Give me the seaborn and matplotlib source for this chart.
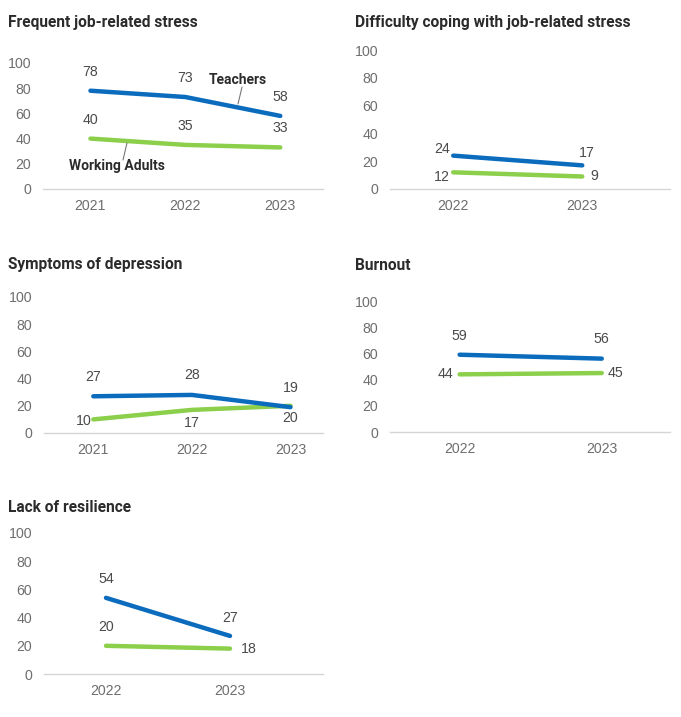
import numpy as np
import pandas as pd
import matplotlib
matplotlib.use("Agg")
import matplotlib.pyplot as plt
import seaborn as sns

# values (percent)
titles = ["Frequent job-related stress", "Difficulty coping with job-related stress",
          "Symptoms of depression", "Burnout", "Lack of resilience"]
years_3 = ["2021", "2022", "2023"]
years_2 = ["2022", "2023"]

stress_teachers = [78, 73, 58]
stress_adults = [40, 35, 33]
coping_teachers = [24, 17]
coping_adults = [12, 9]
depression_teachers = [27, 28, 19]
depression_adults = [10, 17, 20]
burnout_teachers = [59, 56]
burnout_adults = [44, 45]
resilience_teachers = [54, 27]
resilience_adults = [20, 18]

y_ticks = [0, 20, 40, 60, 80, 100]

BLUE = "#0b6bbd"
GREEN = "#8bcf4b"
TICK = "#6e6e6e"
LABEL = "#4a4a4a"
DARK = "#2b2b2b"

sns.set_theme(style="white")
plt.rcParams["font.family"] = ["Liberation Sans", "DejaVu Sans"]

W, H = 681, 717
fig = plt.figure(figsize=(W / 100, H / 100), dpi=100)

def px_axes(x0, x1, y0, y100):
    return fig.add_axes([x0 / W, 1 - y0 / H, (x1 - x0) / W, (y0 - y100) / H])

# (axes box px, xlim, title pos, data label offsets in px: teachers, adults)
panels = [
    dict(box=(43, 323, 189, 63), xlim=(-0.5, 2.45), title=(8, 23),
         years=years_3, t=stress_teachers, a=stress_adults,
         toff=[(0, 19), (0, 19), (0, 19)], aoff=[(0, 19), (0, 19), (0, 19)]),
    dict(box=(390, 670, 189, 50), xlim=(-0.49, 1.68), title=(355, 23),
         years=years_2, t=coping_teachers, a=coping_adults,
         toff=[(-11, 7), (5, 12)], aoff=[(-11, -5), (12, 0)]),
    dict(box=(44, 323, 433, 297), xlim=(-0.5, 2.33), title=(8, 265),
         years=years_3, t=depression_teachers, a=depression_adults,
         toff=[(0, 19), (0, 20), (0, 19)], aoff=[(-10, -2), (0, -13), (0, -12)]),
    dict(box=(390, 670, 432, 301), xlim=(-0.49, 1.48), title=(355, 265),
         years=years_2, t=burnout_teachers, a=burnout_adults,
         toff=[(0, 19), (0, 20)], aoff=[(-14, 0), (14, 0)]),
    dict(box=(44, 323, 674, 533), xlim=(-0.5, 1.75), title=(8, 507),
         years=years_2, t=resilience_teachers, a=resilience_adults,
         toff=[(0, 19), (0, 18)], aoff=[(0, 19), (19, 0)]),
]

for i, p in enumerate(panels):
    x0, x1, y0, y100 = p["box"]
    ax = px_axes(x0, x1, y0, y100)
    df = pd.DataFrame({
        "year": p["years"] * 2,
        "value": p["t"] + p["a"],
        "group": ["Teachers"] * len(p["years"]) + ["Working Adults"] * len(p["years"]),
    })
    sns.lineplot(data=df, x="year", y="value", hue="group",
                 palette={"Teachers": BLUE, "Working Adults": GREEN},
                 hue_order=["Working Adults", "Teachers"],
                 linewidth=3.2, legend=False, ax=ax, solid_capstyle="round")
    ax.set_xlim(*p["xlim"])
    ax.set_ylim(0, 100)
    ax.set_yticks(y_ticks)
    ax.set_xlabel("")
    ax.set_ylabel("")
    for s in ["top", "right", "left"]:
        ax.spines[s].set_visible(False)
    ax.spines["bottom"].set_color("#d6d6d6")
    ax.spines["bottom"].set_linewidth(1.0)
    ax.tick_params(axis="both", length=0, labelsize=10.2, labelcolor=TICK)
    ax.tick_params(axis="y", pad=8.5)
    ax.tick_params(axis="x", pad=7.5)
    ax.set_facecolor("none")

    for j, (v, off) in enumerate(zip(p["t"], p["toff"])):
        ax.annotate(str(v), (j, v), xytext=(off[0] * 0.72, off[1] * 0.72),
                    textcoords="offset points", ha="center", va="center",
                    fontsize=10.2, color=LABEL)
    for j, (v, off) in enumerate(zip(p["a"], p["aoff"])):
        ax.annotate(str(v), (j, v), xytext=(off[0] * 0.72, off[1] * 0.72),
                    textcoords="offset points", ha="center", va="center",
                    fontsize=10.2, color=LABEL)

    tx, ty = p["title"]
    fig.text(tx / W, 1 - ty / H, titles[i], ha="left", va="center",
             fontsize=11.2, fontweight="bold", color=DARK,
             family=["Roboto", "DejaVu Sans"])

# series labels with leader lines on the first panel
def fig_pt(x, y):
    return (x / W, 1 - y / H)

fig.text(*fig_pt(238, 80), "Teachers", ha="center", va="center",
         fontsize=10, fontweight="bold", color=DARK, family=["Roboto", "DejaVu Sans"])
fig.text(*fig_pt(117, 166), "Working Adults", ha="center", va="center",
         fontsize=10, fontweight="bold", color=DARK, family=["Roboto", "DejaVu Sans"])
fig.add_artist(plt.Line2D([242 / W, 238 / W], [1 - 87 / H, 1 - 104 / H],
                          color="#777777", linewidth=0.8))
fig.add_artist(plt.Line2D([127 / W, 123 / W], [1 - 143 / H, 1 - 160 / H],
                          color="#777777", linewidth=0.8))

fig.savefig("out.png", dpi=100, facecolor="white")
